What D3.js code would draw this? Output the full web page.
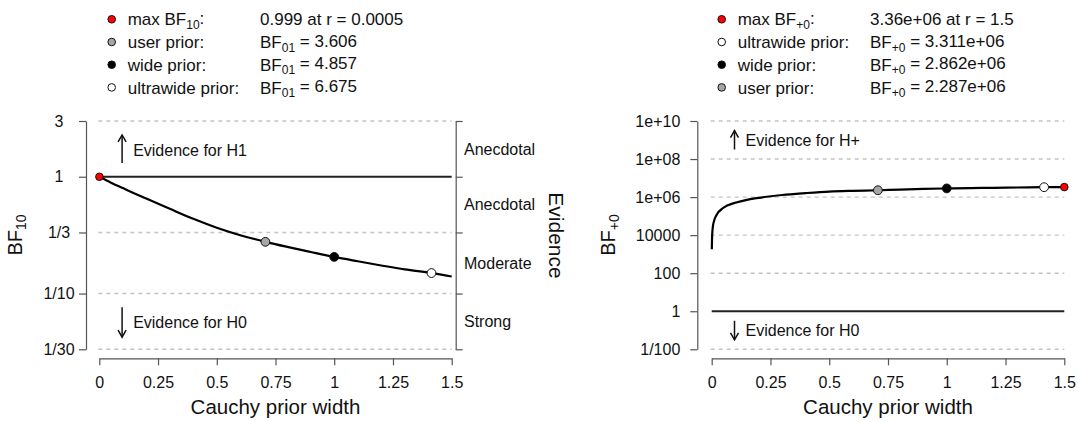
<!DOCTYPE html>
<html>
<head>
<meta charset="UTF-8">
<script src="https://d3js.org/d3.v7.min.js"></script>
<style>
  body { margin: 0; background: #fff; }
  svg text { font-family: "Liberation Sans", Arial, sans-serif; fill: #111; }
</style>
</head>
<body>
<div id="chart"></div>
<script>
// ---- data ----
var xTicks = [0, 0.25, 0.5, 0.75, 1, 1.25, 1.5];
var xTickLabels = ["0", "0.25", "0.5", "0.75", "1", "1.25", "1.5"];

// left panel: BF10 robustness
var leftYTicks = [3, 1, 1/3, 1/10, 1/30];
var leftYTickLabels = ["3", "1", "1/3", "1/10", "1/30"];
var leftGrid = [3, 1/3, 1/10, 1/30];
var evidenceLabels = ["Anecdotal", "Anecdotal", "Moderate", "Strong"];
var leftR = [0, 0.05, 0.1, 0.15, 0.2, 0.3, 0.4, 0.5, 0.6, 0.707, 0.8, 0.9, 1, 1.1, 1.2, 1.3, 1.414, 1.5];
var leftBF = [1, 0.89, 0.8, 0.72, 0.652, 0.532, 0.436, 0.366, 0.316, 0.2773, 0.251, 0.227, 0.2059, 0.189, 0.174, 0.161, 0.1498, 0.14];
var leftMarkR = [0.0005, 0.707, 1, 1.414];
var leftMarkBF = [0.999, 0.2773, 0.2059, 0.1498];
var leftMarkFill = ["#ff0000", "#a6a6a6", "#000000", "#ffffff"];
var leftLegendNames = ["max BF|10|:", "user prior:", "wide prior:", "ultrawide prior:"];
var leftLegendValues = ["0.999 at r = 0.0005", "BF|01| = 3.606", "BF|01| = 4.857", "BF|01| = 6.675"];

// right panel: BF+0 robustness
var rightYTicks = [1e10, 1e8, 1e6, 1e4, 100, 1, 0.01];
var rightYTickLabels = ["1e+10", "1e+08", "1e+06", "10000", "100", "1", "1/100"];
var rightGrid = [1e10, 1e8, 1e6, 1e4, 100, 0.01];
var rightR = [0.0005, 0.002, 0.005, 0.01, 0.02, 0.05, 0.1, 0.15, 0.2, 0.3, 0.4, 0.5, 0.6, 0.707, 0.8, 0.9, 1, 1.1, 1.2, 1.3, 1.414, 1.5];
var rightBF = [1800, 1.0e4, 2.8e4, 5.6e4, 1.12e5, 2.75e5, 5.0e5, 7.1e5, 9.1e5, 1.29e6, 1.62e6, 1.95e6, 2.14e6, 2.287e6, 2.5e6, 2.69e6, 2.862e6, 2.985e6, 3.09e6, 3.2e6, 3.311e6, 3.36e6];
var rightMarkR = [1.5, 1.414, 1, 0.707];
var rightMarkBF = [3.36e6, 3.311e6, 2.862e6, 2.287e6];
var rightMarkFill = ["#ff0000", "#ffffff", "#000000", "#a6a6a6"];
var rightLegendNames = ["max BF|+0|:", "ultrawide prior:", "wide prior:", "user prior:"];
var rightLegendValues = ["3.36e+06 at r = 1.5", "BF|+0| = 3.311e+06", "BF|+0| = 2.862e+06", "BF|+0| = 2.287e+06"];

var width = 1078, height = 422;
var svg = d3.select("#chart").append("svg")
    .attr("width", width)
    .attr("height", height);

// write "BF|10| = x" style strings with subscripts
function subText(sel, str, subSize) {
    var parts = str.split("|");
    parts.forEach(function(p, i) {
        if (p === "") return;
        var t = sel.append("tspan").text(p);
        if (i % 2 === 1) t.attr("font-size", subSize).attr("dy", "0.3em");
        else if (i > 0) t.attr("dy", "-0.3em");
    });
}

function drawPanel(p) {
    var x = d3.scaleLinear().domain([0, 1.5]).range([p.x0, p.x1]);
    var y = d3.scaleLog().domain(p.yDomain).range([349.3, 121]);
    var g = svg.append("g");

    // dashed grid
    g.selectAll(".grid").data(p.grid).enter().append("line")
        .attr("x1", x(0) - 1).attr("x2", x(1.5))
        .attr("y1", d => y(d)).attr("y2", d => y(d))
        .attr("stroke", "#c4c4c4").attr("stroke-width", 1.4)
        .attr("stroke-dasharray", "4,4");

    // reference line at BF = 1
    g.append("line")
        .attr("x1", x(0)).attr("x2", x(1.5))
        .attr("y1", y(1)).attr("y2", y(1))
        .attr("stroke", "#222").attr("stroke-width", 2);

    // axes
    var yaxis = d3.axisLeft(y).tickValues(p.yTicks)
        .tickFormat((d, i) => p.yTickLabels[i]).tickSize(7).tickSizeOuter(0).tickPadding(p.yPad);
    var ya = g.append("g").attr("transform", "translate(" + p.yAxisX + ",0)").call(yaxis);
    ya.selectAll("text").style("font-size", "16px").attr("text-anchor", p.yAnchor);
    ya.selectAll("path, line").attr("stroke", "#555").attr("stroke-width", 1.2);

    var xaxis = d3.axisBottom(x).tickValues(xTicks)
        .tickFormat((d, i) => xTickLabels[i]).tickSize(7).tickSizeOuter(0).tickPadding(11);
    var xa = g.append("g").attr("transform", "translate(0,358.3)").call(xaxis);
    xa.selectAll("text").style("font-size", "16px");
    xa.selectAll("path, line").attr("stroke", "#555").attr("stroke-width", 1.2);

    // axis titles
    g.append("text").attr("x", (p.x0 + p.x1) / 2).attr("y", 414)
        .attr("text-anchor", "middle").style("font-size", "20.5px")
        .text("Cauchy prior width");
    var yt = g.append("text")
        .attr("transform", "translate(" + p.yTitleX + ",235) rotate(-90)")
        .attr("text-anchor", "middle").style("font-size", "20px");
    subText(yt, p.yTitle, "14px");

    // curve
    var line = d3.line().x(d => x(d[0])).y(d => y(d[1])).curve(d3.curveMonotoneX);
    g.append("path").datum(d3.zip(p.r, p.bf))
        .attr("d", line).attr("fill", "none")
        .attr("stroke", "#000").attr("stroke-width", 2.2);

    // markers
    g.selectAll(".mark").data(d3.zip(p.markR, p.markBF, p.markFill)).enter().append("circle")
        .attr("cx", d => x(d[0])).attr("cy", d => y(d[1]))
        .attr("r", (d, i) => i === 0 ? 3.8 : 4.4)
        .attr("fill", d => d[2]).attr("stroke", "#111").attr("stroke-width", 1);

    // evidence arrows
    function arrow(r, b0, b1) {
        var ax = x(r), ya0 = y(b0), ya1 = y(b1);
        var dir = ya1 < ya0 ? 1 : -1;
        g.append("line").attr("x1", ax).attr("x2", ax).attr("y1", ya0).attr("y2", ya1)
            .attr("stroke", "#111").attr("stroke-width", 1.5);
        g.append("path")
            .attr("d", "M" + (ax - 4) + "," + (ya1 + dir * 7) + "L" + ax + "," + ya1 + "L" + (ax + 4) + "," + (ya1 + dir * 7))
            .attr("fill", "none").attr("stroke", "#111").attr("stroke-width", 1.5);
    }
    arrow(0.097, p.upArrow[0], p.upArrow[1]);
    arrow(0.097, p.downArrow[0], p.downArrow[1]);
    g.append("text").attr("x", x(0.144)).attr("y", y(p.upText)).attr("dy", "0.36em")
        .style("font-size", "16px").text(p.upLabel);
    g.append("text").attr("x", x(0.144)).attr("y", y(p.downText)).attr("dy", "0.36em")
        .style("font-size", "16px").text("Evidence for H0");

    // legend above the panel
    var lg = g.selectAll(".leg").data(d3.range(4)).enter().append("g")
        .attr("transform", i => "translate(0," + (19.3 + i * 22.7) + ")");
    lg.append("circle").attr("cx", p.legX).attr("cy", 0).attr("r", 3.8)
        .attr("fill", i => p.markFill[i]).attr("stroke", "#111").attr("stroke-width", 1);
    lg.append("text").attr("x", p.legX + 16).attr("dy", "0.36em").style("font-size", "17px")
        .each(function(i) { subText(d3.select(this), p.legNames[i], "12px"); });
    lg.append("text").attr("x", p.legX + 148.3).attr("dy", "0.36em").style("font-size", "17px")
        .each(function(i) { subText(d3.select(this), p.legValues[i], "12px"); });

    return {x: x, y: y, g: g};
}

var left = drawPanel({
    x0: 99.3, x1: 451.7, yDomain: [1/30, 3], yAxisX: 86,
    yTicks: leftYTicks, yTickLabels: leftYTickLabels, yPad: 20, yAnchor: "middle",
    grid: leftGrid, yTitle: "BF|10|", yTitleX: 22,
    r: leftR, bf: leftBF, markR: leftMarkR, markBF: leftMarkBF, markFill: leftMarkFill,
    upArrow: [1.31, 2.28], downArrow: [0.0764, 0.0423], upText: 1.69, downText: 0.0569,
    upLabel: "Evidence for H1",
    legX: 111.7, legNames: leftLegendNames, legValues: leftLegendValues
});

// second y axis with evidence categories for the left panel
var evAxis = d3.axisRight(left.y).tickValues(leftYTicks).tickFormat("").tickSize(7).tickSizeOuter(0);
var ea = left.g.append("g").attr("transform", "translate(455.7,0)").call(evAxis);
ea.selectAll("path, line").attr("stroke", "#555").attr("stroke-width", 1.2);
left.g.selectAll(".ev").data(evidenceLabels).enter().append("text")
    .attr("x", 464)
    .attr("y", (d, i) => left.y(Math.sqrt(leftYTicks[i] * leftYTicks[i + 1])))
    .attr("dy", "0.36em").style("font-size", "16px").text(d => d);
left.g.append("text").attr("transform", "translate(549,235.5) rotate(90)")
    .attr("text-anchor", "middle").style("font-size", "21px").text("Evidence");

drawPanel({
    x0: 711.7, x1: 1064.3, yDomain: [0.01, 1e10], yAxisX: 697.3,
    yTicks: rightYTicks, yTickLabels: rightYTickLabels, yPad: 10, yAnchor: "end",
    grid: rightGrid, yTitle: "BF|+0|", yTitleX: 615,
    r: rightR, bf: rightBF, markR: rightMarkR, markBF: rightMarkBF, markFill: rightMarkFill,
    upArrow: [Math.pow(10, 8.5), Math.pow(10, 9.5)], downArrow: [Math.pow(10, -0.5), Math.pow(10, -1.5)],
    upText: 1e9, downText: 0.1,
    upLabel: "Evidence for H+",
    legX: 721.7, legNames: rightLegendNames, legValues: rightLegendValues
});
</script>
</body>
</html>
